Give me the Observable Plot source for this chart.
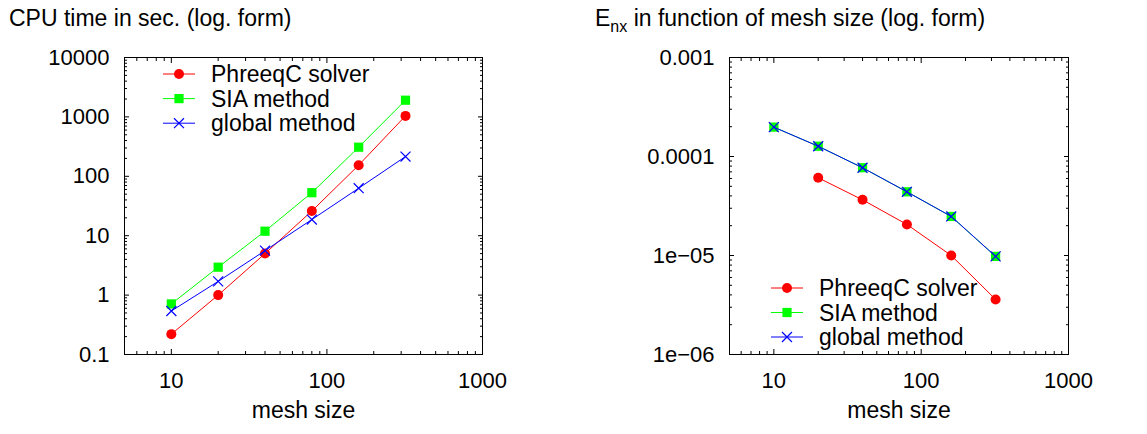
<!DOCTYPE html>
<html>
<head>
<meta charset="utf-8">
<script src="https://cdn.jsdelivr.net/npm/d3@7"></script>
<script src="https://cdn.jsdelivr.net/npm/@observablehq/plot@0.6"></script>
<style>
  body { margin: 0; background: white; font-family: "Liberation Sans", Arial, sans-serif; }
  #wrap { position: relative; width: 1147px; height: 434px; overflow: hidden; }
  .title { position: absolute; font-size: 23px; color: black; white-space: nowrap; }
  .title sub { font-size: 16px; vertical-align: -6px; line-height: 0; }
  .panel { position: absolute; top: 40px; }
</style>
</head>
<body>
<div id="wrap">
  <div class="title" style="left:9px; top:5px;">CPU time in sec. (log. form)</div>
  <div class="title" style="left:595px; top:5px;">E<sub>nx</sub> in function of mesh size (log. form)</div>
  <div class="panel" id="left" style="left:0px;"></div>
  <div class="panel" id="right" style="left:580px;"></div>
</div>
<script>
// ---- data ----
const meshSize = [10, 20, 40, 80, 160, 320];
const seriesNames = ["PhreeqC solver", "SIA method", "global method"];
const cpuPhreeqc = [0.22, 1.0, 5.0, 26, 154, 1040];
const cpuSIA = [0.71, 2.95, 11.9, 53, 309, 1910];
const cpuGlobal = [0.54, 1.7, 5.6, 18.7, 63, 215];
const errPhreeqc = [null, 6.1e-5, 3.65e-5, 2.06e-5, 1.0e-5, 3.6e-6];
const errSIA = [1.98e-4, 1.27e-4, 7.7e-5, 4.4e-5, 2.48e-5, 9.8e-6];
const errGlobal = [1.98e-4, 1.27e-4, 7.7e-5, 4.4e-5, 2.48e-5, 9.8e-6];
// ---- ticks ----
const xTicks = [10, 100, 1000];
const xTickLabels = ["10", "100", "1000"];
const cpuTicks = [0.1, 1, 10, 100, 1000, 10000];
const cpuTickLabels = ["0.1", "1", "10", "100", "1000", "10000"];
const errTicks = [1e-6, 1e-5, 1e-4, 1e-3];
const errTickLabels = ["1e\u221206", "1e\u221205", "0.0001", "0.001"];

const colors = ["#ff0000", "#00ff00", "#0000ff"];
const symbols = ["circle", "square", "times"];
const radii = [5, 5.2, 4.6];

function minorTicks(lo, hi) {
  const out = [];
  for (let e = Math.floor(Math.log10(lo)); e <= Math.ceil(Math.log10(hi)); e++) {
    for (let m = 2; m <= 9; m++) {
      const v = m * Math.pow(10, e);
      if (v > lo * 0.999 && v < hi * 1.001) out.push(v);
    }
  }
  return out;
}

function makeTable(ys) {
  return meshSize.map((m, i) => ({mesh: m, val: ys[i]})).filter(d => d.val != null);
}

function makePanel({width, marginLeft, marginRight, yDomain, yTicks, yLabels, series, legend}) {
  const xDomain = [5, 1000];
  const xMinor = minorTicks(5, 1000).filter(v => !xTicks.includes(v));
  const yMinor = minorTicks(yDomain[0], yDomain[1]);
  const blank = () => "";
  const marks = [
    Plot.frame({stroke: "black", strokeWidth: 1}),
    // inward major/minor ticks on all four sides
    Plot.axisX({anchor: "bottom", ticks: xTicks, tickSize: 5, dy: -5, tickFormat: blank, label: null}),
    Plot.axisX({anchor: "top", ticks: xTicks, tickSize: 5, dy: 5, tickFormat: blank, label: null}),
    Plot.axisX({anchor: "bottom", ticks: xMinor, tickSize: 3, dy: -3, tickFormat: blank, label: null}),
    Plot.axisX({anchor: "top", ticks: xMinor, tickSize: 3, dy: 3, tickFormat: blank, label: null}),
    Plot.axisY({anchor: "left", ticks: yTicks, tickSize: 5, dx: 5, tickFormat: blank, label: null}),
    Plot.axisY({anchor: "right", ticks: yTicks, tickSize: 5, dx: -5, tickFormat: blank, label: null}),
    Plot.axisY({anchor: "left", ticks: yMinor, tickSize: 3, dx: 3, tickFormat: blank, label: null}),
    Plot.axisY({anchor: "right", ticks: yMinor, tickSize: 3, dx: -3, tickFormat: blank, label: null}),
    // labels
    Plot.axisX({anchor: "bottom", ticks: xTicks, tickSize: 0, tickPadding: 18, fill: "black",
      tickFormat: d => xTickLabels[xTicks.indexOf(d)], label: null}),
    Plot.axisY({anchor: "left", ticks: yTicks, tickSize: 0, tickPadding: 15, fill: "black",
      tickFormat: d => yLabels[yTicks.indexOf(d)], label: null}),
    Plot.text(["mesh size"], {frameAnchor: "bottom", dy: 63, text: d => d, fill: "black", fontSize: 23})
  ];
  series.forEach((ys, k) => {
    const t = makeTable(ys);
    marks.push(Plot.line(t, {x: "mesh", y: "val", stroke: colors[k], strokeWidth: 1}));
    if (symbols[k] === "times") {
      marks.push(Plot.dot(t, {x: "mesh", y: "val", symbol: "times", r: radii[k], stroke: colors[k], strokeWidth: 1.2}));
    } else {
      marks.push(Plot.dot(t, {x: "mesh", y: "val", symbol: symbols[k], r: radii[k], fill: colors[k], stroke: "none"}));
    }
  });
  const chart = Plot.plot({
    width, height: 394,
    marginLeft, marginRight, marginTop: 17, marginBottom: 80,
    x: {type: "log", domain: xDomain, label: null},
    y: {type: "log", domain: yDomain, label: null},
    style: {fontFamily: "'Liberation Sans', Arial, sans-serif", fontSize: "22px", background: "white", color: "black", overflow: "visible"},
    marks
  });
  // legend
  const g = d3.select(chart).append("g").attr("text-anchor", "start");
  seriesNames.forEach((name, k) => {
    const y = legend.y0 + k * legend.step;
    g.append("line").attr("x1", legend.x1).attr("x2", legend.x2).attr("y1", y).attr("y2", y)
      .attr("stroke", colors[k]).attr("stroke-width", 1);
    const mx = (legend.x1 + legend.x2) / 2;
    const size = Math.PI * radii[k] * radii[k];
    const sym = symbols[k] === "circle" ? d3.symbolCircle : symbols[k] === "square" ? d3.symbolSquare : d3.symbolTimes;
    const p = g.append("path").attr("transform", `translate(${mx},${y})`).attr("d", d3.symbol(sym, size)());
    if (symbols[k] === "times") p.attr("fill", "none").attr("stroke", colors[k]).attr("stroke-width", 1.2);
    else p.attr("fill", colors[k]);
    g.append("text").attr("x", legend.tx).attr("y", y).attr("dy", "0.35em")
      .attr("text-anchor", "start").attr("fill", "black").attr("font-size", 23).text(name);
  });
  return chart;
}

document.getElementById("left").appendChild(makePanel({
  width: 560, marginLeft: 124, marginRight: 78,
  yDomain: [0.1, 10000], yTicks: cpuTicks, yLabels: cpuTickLabels,
  series: [cpuPhreeqc, cpuSIA, cpuGlobal],
  legend: {x1: 163, x2: 195, tx: 211, y0: 34, step: 24.6}
}));
document.getElementById("right").appendChild(makePanel({
  width: 567, marginLeft: 149, marginRight: 79,
  yDomain: [1e-6, 1e-3], yTicks: errTicks, yLabels: errTickLabels,
  series: [errPhreeqc, errSIA, errGlobal],
  legend: {x1: 191, x2: 223, tx: 239, y0: 248, step: 24.5}
}));
</script>
</body>
</html>
